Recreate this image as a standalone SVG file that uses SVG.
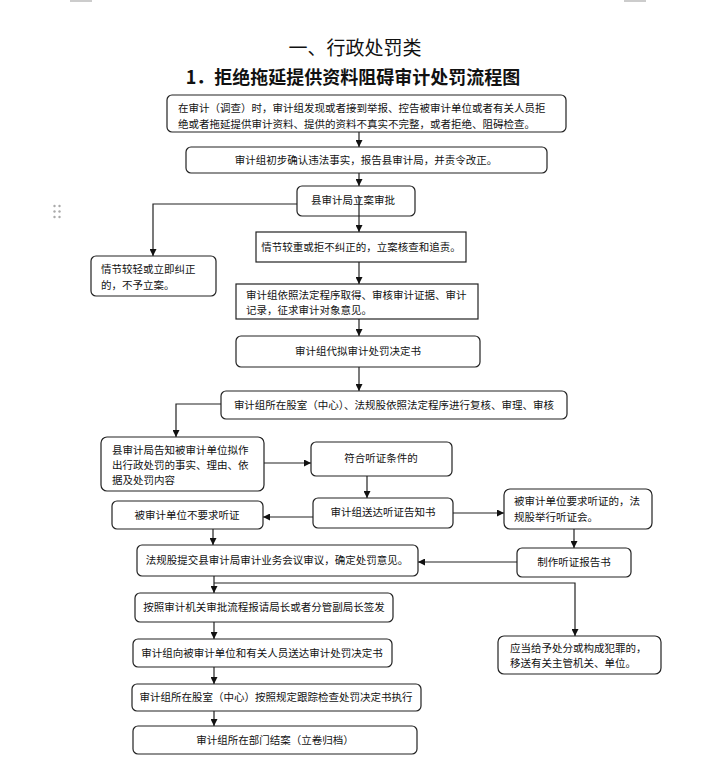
<svg xmlns="http://www.w3.org/2000/svg" width="702" height="766" viewBox="0 0 702 766">
<style>
.b{fill:#fff;stroke:#222;stroke-width:1.2}
.t{font-family:"Noto Sans CJK SC","Liberation Sans",sans-serif;font-size:10.5px;fill:#111}
.c{text-anchor:middle}
.l{fill:none;stroke:#222;stroke-width:1.2}
</style>
<defs>
<marker id="a" viewBox="0 0 10 10" refX="10" refY="5" markerWidth="7" markerHeight="7" markerUnits="userSpaceOnUse" orient="auto">
<path d="M0,0 L10,5 L0,10 z" fill="#111"/>
</marker>
</defs>
<rect width="702" height="766" fill="#fff"/>
<g id="marks" stroke="#bbb" stroke-width="1.5">
<line x1="70" y1="1" x2="92" y2="1"/>
<line x1="624" y1="1" x2="646" y2="1"/>
</g>
<g id="handle" fill="#aaa">
<circle cx="54.5" cy="206" r="1.2"/><circle cx="59.5" cy="206" r="1.2"/>
<circle cx="54.5" cy="211.5" r="1.2"/><circle cx="59.5" cy="211.5" r="1.2"/>
<circle cx="54.5" cy="217" r="1.2"/><circle cx="59.5" cy="217" r="1.2"/>
</g>
<g id="title">
<text x="355" y="55" text-anchor="middle" font-family="Noto Sans CJK SC,sans-serif" font-size="19" fill="#111">一、行政处罚类</text>
<text x="353" y="84" text-anchor="middle" font-family="Noto Sans CJK SC,sans-serif" font-size="18" font-weight="bold" fill="#111">1．拒绝拖延提供资料阻碍审计处罚流程图</text>
</g>
<g id="connectors">
<line class="l" x1="359" y1="132" x2="359" y2="147" marker-end="url(#a)"/>
<line class="l" x1="359" y1="173" x2="359" y2="186" marker-end="url(#a)"/>
<polyline class="l" points="297,204 153,204 153,256" marker-end="url(#a)"/>
<line class="l" x1="359" y1="262" x2="359" y2="284" marker-end="url(#a)"/>
<line class="l" x1="359" y1="319" x2="359" y2="336" marker-end="url(#a)"/>
<line class="l" x1="359" y1="367" x2="359" y2="391" marker-end="url(#a)"/>
<polyline class="l" points="221,404 176,404 176,437" marker-end="url(#a)"/>
<line class="l" x1="264" y1="463" x2="311" y2="463" marker-end="url(#a)"/>
<line class="l" x1="367" y1="476" x2="367" y2="498" marker-end="url(#a)"/>
<line class="l" x1="313" y1="517" x2="263" y2="517" marker-end="url(#a)"/>
<line class="l" x1="453" y1="513" x2="504" y2="513" marker-end="url(#a)"/>
<line class="l" x1="213" y1="529" x2="213" y2="545" marker-end="url(#a)"/>
<line class="l" x1="574" y1="529" x2="574" y2="548" marker-end="url(#a)"/>
<line class="l" x1="517" y1="562" x2="418" y2="562" marker-end="url(#a)"/>
<line class="l" x1="214" y1="576" x2="214" y2="593" marker-end="url(#a)"/>
<polyline class="l" points="214,583 575,583 575,636" marker-end="url(#a)"/>
<line class="l" x1="214" y1="622" x2="214" y2="639" marker-end="url(#a)"/>
<line class="l" x1="214" y1="667" x2="214" y2="684" marker-end="url(#a)"/>
<line class="l" x1="214" y1="711" x2="214" y2="726" marker-end="url(#a)"/>
</g>
<g id="n1"><rect class="b" x="167" y="95" width="399" height="37" rx="5"/>
<text class="t" x="178" y="112">在审计（调查）时，审计组发现或者接到举报、控告被审计单位或者有关人员拒</text>
<text class="t" x="178" y="128">绝或者拖延提供审计资料、提供的资料不真实不完整，或者拒绝、阻碍检查。</text></g>
<g id="n2"><rect class="b" x="186" y="147" width="361" height="26" rx="5"/>
<text class="t c" x="366" y="164">审计组初步确认违法事实，报告县审计局，并责令改正。</text></g>
<g id="n3"><rect class="b" x="297" y="186" width="118" height="30" rx="5"/>
<text class="t c" x="353" y="204">县审计局立案审批</text></g>
<line class="l" x1="359" y1="196" x2="359" y2="232" marker-end="url(#a)"/>
<g id="n4"><rect class="b" x="91" y="256" width="125" height="40" rx="5"/>
<text class="t" x="101" y="273">情节较轻或立即纠正</text>
<text class="t" x="101" y="289">的，不予立案。</text></g>
<g id="n5"><rect class="b" x="256" y="232" width="210" height="30"/>
<text class="t c" x="361" y="251">情节较重或拒不纠正的，立案核查和追责。</text></g>
<g id="n6"><rect class="b" x="236" y="284" width="242" height="35"/>
<text class="t" x="246" y="299">审计组依照法定程序取得、审核审计证据、审计</text>
<text class="t" x="246" y="314">记录，征求审计对象意见。</text></g>
<g id="n7"><rect class="b" x="236" y="336" width="244" height="31" rx="5"/>
<text class="t c" x="358" y="355">审计组代拟审计处罚决定书</text></g>
<g id="n8"><rect class="b" x="221" y="391" width="346" height="28" rx="5"/>
<text class="t c" x="394" y="409">审计组所在股室（中心）、法规股依照法定程序进行复核、审理、审核</text></g>
<g id="n9"><rect class="b" x="101" y="437" width="163" height="54" rx="6"/>
<text class="t" x="112" y="454">县审计局告知被审计单位拟作</text>
<text class="t" x="112" y="469">出行政处罚的事实、理由、依</text>
<text class="t" x="112" y="484">据及处罚内容</text></g>
<g id="n10"><rect class="b" x="311" y="442" width="141" height="34" rx="5"/>
<text class="t c" x="381" y="462">符合听证条件的</text></g>
<g id="n11"><rect class="b" x="313" y="498" width="140" height="30" rx="5"/>
<text class="t c" x="383" y="516">审计组送达听证告知书</text></g>
<g id="n12"><rect class="b" x="112" y="501" width="151" height="28" rx="5"/>
<text class="t c" x="187" y="519">被审计单位不要求听证</text></g>
<g id="n13"><rect class="b" x="504" y="489" width="148" height="40" rx="6"/>
<text class="t" x="514" y="505">被审计单位要求听证的，法</text>
<text class="t" x="514" y="521">规股举行听证会。</text></g>
<g id="n14"><rect class="b" x="517" y="548" width="114" height="29" rx="5"/>
<text class="t c" x="574" y="566">制作听证报告书</text></g>
<g id="n15"><rect class="b" x="137" y="545" width="281" height="31" rx="5"/>
<text class="t c" x="277" y="564">法规股提交县审计局审计业务会议审议，确定处罚意见。</text></g>
<g id="n16"><rect class="b" x="135" y="593" width="258" height="29" rx="5"/>
<text class="t c" x="264" y="611">按照审计机关审批流程报请局长或者分管副局长签发</text></g>
<g id="n17"><rect class="b" x="498" y="636" width="163" height="38" rx="6"/>
<text class="t" x="510" y="652">应当给予处分或构成犯罪的，</text>
<text class="t" x="510" y="667">移送有关主管机关、单位。</text></g>
<g id="n18"><rect class="b" x="133" y="639" width="259" height="28" rx="5"/>
<text class="t c" x="262" y="657">审计组向被审计单位和有关人员送达审计处罚决定书</text></g>
<g id="n19"><rect class="b" x="132" y="684" width="289" height="27" rx="5"/>
<text class="t c" x="276" y="701">审计组所在股室（中心）按照规定跟踪检查处罚决定书执行</text></g>
<g id="n20"><rect class="b" x="133" y="726" width="284" height="28" rx="5"/>
<text class="t c" x="275" y="744">审计组所在部门结案（立卷归档）</text></g>
</svg>
